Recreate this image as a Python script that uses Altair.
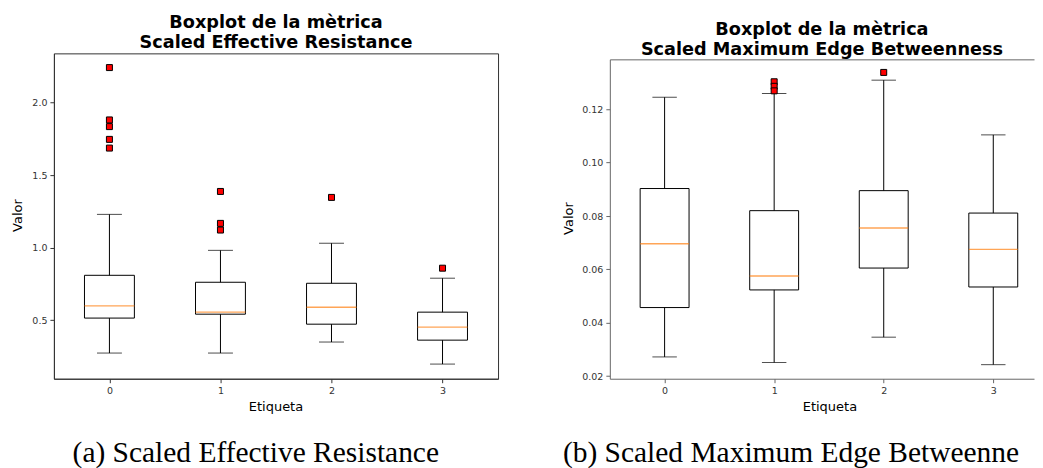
import altair as alt
import pandas as pd

labels = [0, 1, 2, 3]

# Panel (a): Scaled Effective Resistance
er_low = [0.273, 0.273, 0.349, 0.197]
er_q1 = [0.514, 0.541, 0.472, 0.362]
er_med = [0.598, 0.555, 0.589, 0.452]
er_q3 = [0.809, 0.761, 0.754, 0.555]
er_high = [1.229, 0.981, 1.030, 0.789]
er_out_label = [0, 0, 0, 0, 0, 1, 1, 1, 2, 3]
er_out_value = [2.241, 1.880, 1.834, 1.746, 1.686, 1.387, 1.167, 1.121, 1.346, 0.858]
er_yticks = [0.5, 1.0, 1.5, 2.0]

# Panel (b): Scaled Maximum Edge Betweenness
meb_low = [0.0272, 0.0251, 0.0346, 0.0243]
meb_q1 = [0.0457, 0.0523, 0.0605, 0.0534]
meb_med = [0.0696, 0.0575, 0.0755, 0.0675]
meb_q3 = [0.0903, 0.0820, 0.0895, 0.0811]
meb_high = [0.1245, 0.1259, 0.1309, 0.1104]
meb_out_label = [1, 1, 1, 2]
meb_out_value = [0.1303, 0.1286, 0.1269, 0.1338]
meb_yticks = [0.02, 0.04, 0.06, 0.08, 0.10, 0.12]

titles = [["Boxplot de la mètrica", "Scaled Effective Resistance"],
          ["Boxplot de la mètrica", "Scaled Maximum Edge Betweenness"]]
captions = ["(a) Scaled Effective Resistance", "(b) Scaled Maximum Edge Betweenness"]

H = 326


def panel(low, q1, med, q3, high, out_lab, out_val, yticks, yfmt, ydom, yrange_top,
          xdom, width, box_w, title, title_dy, caption, cap_x, cap_limit,
          ytitle_x, xtitle_x, spine, frame):
    stats = pd.DataFrame({"label": labels, "low": low, "q1": q1, "med": med,
                          "q3": q3, "high": high})
    outs = pd.DataFrame({"label": out_lab, "value": out_val})
    capdf = pd.DataFrame({"caption": [caption]})

    xs = alt.Scale(domain=xdom, nice=False, zero=False, padding=0)
    ys = alt.Scale(domain=ydom, nice=False, zero=False, padding=0, range=[H, yrange_top])
    yaxis = alt.Axis(values=yticks, format=yfmt, title="Valor", titleX=ytitle_x,
                     titleY=(H + yrange_top) / 2 - 1, titleBaseline="middle",
                     titleAngle=270, domainColor=spine, tickColor=spine)
    xaxis = alt.Axis(values=labels, format="d", title="Etiqueta", titleX=xtitle_x,
                     titleY=28, titleBaseline="middle", domainColor=spine, tickColor=spine)
    xnone = alt.X("label:Q", scale=xs, axis=None)

    base = alt.Chart(stats)
    whisk_lo = base.mark_rule(color="black", strokeWidth=1).encode(
        x=alt.X("label:Q", scale=xs, axis=xaxis),
        y=alt.Y("low:Q", scale=ys, axis=yaxis), y2="q1:Q")
    whisk_hi = base.mark_rule(color="black", strokeWidth=1).encode(
        x=xnone, y=alt.Y("q3:Q", scale=ys, axis=yaxis), y2="high:Q")
    cap_lo = base.mark_tick(orient="horizontal", size=box_w / 2, thickness=1,
                            color="black").encode(
        x=xnone, y=alt.Y("low:Q", scale=ys, axis=yaxis))
    cap_hi = base.mark_tick(orient="horizontal", size=box_w / 2, thickness=1,
                            color="black").encode(
        x=xnone, y=alt.Y("high:Q", scale=ys, axis=yaxis))
    box = base.mark_bar(orient="vertical", size=box_w, fill="white", stroke="black",
                        strokeWidth=1).encode(
        x=xnone, y=alt.Y("q1:Q", scale=ys, axis=yaxis), y2="q3:Q")
    medl = base.mark_tick(orient="horizontal", size=box_w, thickness=1.4,
                          color="#ff7f0e").encode(
        x=xnone, y=alt.Y("med:Q", scale=ys, axis=yaxis))
    if not frame:
        xo = alt.X("label:Q", scale=xs,
                   axis=alt.Axis(orient="top", labels=False, ticks=False, title=None,
                                 domainColor=spine, offset=-yrange_top))
    else:
        xo = xnone
    pts = alt.Chart(outs).mark_square(size=36, fill="#ff0000", stroke="black",
                                      strokeWidth=1, opacity=1, filled=True).encode(
        x=xo, y=alt.Y("value:Q", scale=ys, axis=yaxis))
    cap = alt.Chart(capdf).mark_text(font="Liberation Serif", fontSize=29.5, align="left",
                                     baseline="alphabetic", color="black",
                                     limit=cap_limit, ellipsis=" ").encode(
        x=alt.value(cap_x), y=alt.value(409.5), text="caption:N")

    layer = alt.layer(box, whisk_lo, whisk_hi, cap_lo, cap_hi, medl, pts, cap).resolve_axis(
        x="independent").properties(
        width=width, height=H,
        title=alt.TitleParams(text=title, font="DejaVu Sans", fontSize=17.7,
                              fontWeight="bold", color="black", lineHeight=20,
                              anchor="middle", offset=3, dy=title_dy),
        view=alt.ViewBackground(stroke=spine if frame else "transparent", strokeWidth=1))
    return layer


left = panel(er_low, er_q1, er_med, er_q3, er_high, er_out_label, er_out_value,
             er_yticks, ".1f", [0.096, 2.339], 0, [-0.5, 3.5], 445, 50,
             titles[0], 1.5, captions[0], 18.7, 1000, -36, 222, "#333333", True)
right = panel(meb_low, meb_q1, meb_med, meb_q3, meb_high, meb_out_label, meb_out_value,
              meb_yticks, ".2f", [0.01903, 0.1387], 6, [-0.5, 3.3717], 425, 49,
              titles[1], 8, captions[1], -47, 470, -41, 220, "#666666", False)

chart = alt.hconcat(left, right, spacing=112, bounds="flush").properties(
    padding={"left": 3, "top": 5, "right": 0, "bottom": 0}
).configure_axis(
    grid=False, labelFont="DejaVu Sans", labelFontSize=9.5, labelColor="#333333",
    tickSize=4, labelPadding=3, titleFont="DejaVu Sans", titleFontSize=13,
    titleFontWeight="normal", titleColor="black"
).configure_view(strokeWidth=1)

chart.save("out.html", embed_options={"renderer": "svg", "actions": False})
